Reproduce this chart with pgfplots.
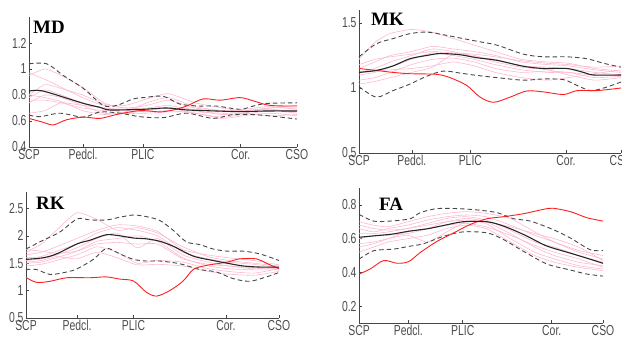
\documentclass[border=0pt]{standalone}
\usepackage{fontspec}
\usepackage{pgfplots}
\pgfplotsset{compat=1.18}
\setmainfont{Liberation Sans}
\newfontfamily\tickfont[FakeStretch=0.72]{Liberation Sans}
\newfontfamily\titlefont{Liberation Serif}
\definecolor{pinkc}{RGB}{252,186,208}
\definecolor{redc}{RGB}{255,30,30}
\definecolor{axc}{RGB}{70,70,70}
\pgfplotsset{
  panel/.style={scale only axis, axis lines*=left, anchor=south west,
    xmin=0, xmax=100, xtick={0,20.2,42.5,79,100},
    xticklabels={SCP,Pedcl.,PLIC,Cor.,CSO},
    tick align=inside, major tick length=3bp,
    axis line style={draw=axc, line width=0.6pt},
    tick style={draw=axc, line width=0.6pt},
    ticklabel style={font=\tickfont\fontsize{14.5}{14.5}\selectfont, text=black!70},
    xticklabel style={yshift=1bp},
    yticklabel style={xshift=1bp},
    /pgf/number format/assume math mode=true,
    clip=false},
  pk/.style={pinkc, line width=0.6pt, smooth, tension=0.35, no marks},
  mn/.style={black!85, line width=1.1pt, smooth, tension=0.5, no marks},
  sd/.style={black!72, line width=0.9pt, dash pattern=on 4.5bp off 3bp, smooth, tension=0.5, no marks},
  pt/.style={redc, line width=0.9pt, smooth, tension=0.5, no marks},
}
\pgfplotstableread{
x   a    b    c    d    e    f    g    h
0   0.95 0.97 0.80 0.78 0.76 0.66 0.80 0.74
6   1.00 0.92 0.88 0.84 0.76 0.68 0.78 0.80
12  0.95 0.86 0.85 0.80 0.74 0.74 0.75 0.78
20  0.86 0.78 0.80 0.74 0.70 0.72 0.68 0.72
28  0.74 0.72 0.73 0.70 0.68 0.70 0.65 0.66
36  0.70 0.72 0.70 0.69 0.68 0.66 0.67 0.66
44  0.72 0.77 0.70 0.69 0.67 0.66 0.74 0.68
52  0.76 0.81 0.72 0.70 0.68 0.67 0.78 0.70
62  0.70 0.74 0.68 0.66 0.66 0.67 0.71 0.69
72  0.68 0.70 0.65 0.63 0.62 0.66 0.68 0.67
80  0.67 0.68 0.66 0.65 0.64 0.66 0.68 0.69
90  0.68 0.70 0.70 0.68 0.66 0.64 0.69 0.71
100 0.68 0.70 0.72 0.66 0.64 0.65 0.67 0.69
}\mdpink
\pgfplotstableread{
x   a    b    c    d    e    f    g    h
0   1.22 1.15 1.12 1.10 1.06 1.03 1.12 1.18
6   1.35 1.20 1.15 1.12 1.08 1.05 1.13 1.22
12  1.42 1.25 1.20 1.16 1.12 1.08 1.14 1.24
20  1.45 1.28 1.25 1.22 1.18 1.12 1.15 1.26
28  1.43 1.32 1.30 1.27 1.22 1.16 1.17 1.28
36  1.38 1.30 1.28 1.25 1.23 1.26 1.20 1.27
44  1.33 1.28 1.24 1.22 1.20 1.25 1.17 1.26
52  1.28 1.25 1.22 1.18 1.15 1.20 1.12 1.24
62  1.22 1.20 1.17 1.14 1.12 1.16 1.08 1.21
72  1.20 1.18 1.16 1.12 1.13 1.14 1.06 1.19
80  1.19 1.17 1.15 1.12 1.12 1.10 1.08 1.18
90  1.15 1.14 1.12 1.10 1.08 1.06 1.11 1.16
100 1.13 1.12 1.10 1.10 1.09 1.08 1.14 1.17
}\mkpink
\pgfplotstableread{
x   a    b    c    d    e    f    g    h
0   1.70 1.65 1.60 1.55 1.50 1.45 1.75 1.52
6   1.85 1.70 1.62 1.58 1.52 1.48 1.72 1.55
12  2.10 1.80 1.72 1.65 1.60 1.55 1.68 1.62
20  2.42 1.95 1.85 1.78 1.72 1.65 1.72 1.58
28  2.30 2.10 2.05 1.95 1.90 1.80 1.85 1.70
36  2.10 2.20 2.15 2.05 1.95 1.70 1.88 1.60
44  2.15 2.18 2.10 1.78 2.00 1.50 1.85 1.47
52  2.05 2.08 2.00 1.95 1.90 1.55 1.85 1.48
62  1.80 1.75 1.70 1.65 1.60 1.52 1.58 1.45
72  1.62 1.65 1.58 1.52 1.45 1.40 1.48 1.35
80  1.55 1.60 1.52 1.45 1.40 1.35 1.45 1.30
90  1.50 1.55 1.48 1.42 1.38 1.32 1.40 1.28
100 1.45 1.47 1.42 1.40 1.38 1.40 1.43 1.35
}\rkpink
\pgfplotstableread{
x   a    b    c    d    e    f    g    h
0   0.70 0.66 0.63 0.60 0.57 0.52 0.68 0.55
6   0.68 0.64 0.63 0.62 0.58 0.55 0.66 0.57
12  0.67 0.66 0.64 0.62 0.60 0.58 0.65 0.60
20  0.70 0.68 0.66 0.63 0.62 0.60 0.66 0.64
28  0.73 0.71 0.69 0.66 0.58 0.62 0.68 0.66
36  0.75 0.73 0.72 0.70 0.64 0.66 0.70 0.68
44  0.76 0.74 0.73 0.72 0.70 0.68 0.71 0.69
52  0.75 0.73 0.71 0.70 0.69 0.66 0.70 0.67
62  0.72 0.68 0.65 0.63 0.60 0.58 0.67 0.62
72  0.64 0.62 0.58 0.55 0.52 0.50 0.63 0.56
80  0.58 0.58 0.55 0.50 0.48 0.46 0.60 0.52
90  0.52 0.53 0.50 0.46 0.44 0.43 0.55 0.48
100 0.48 0.50 0.46 0.44 0.42 0.41 0.47 0.43
}\fapink
\begin{document}
\begin{tikzpicture}[x=1bp,y=1bp]
\useasboundingbox (0,0) rectangle (622,346);
% ---------------- MD ----------------
\begin{axis}[panel, at={(29bp,199bp)}, width=268bp, height=130bp,
  ymin=0.4, ymax=1.4, ytick={0.4,0.6,0.8,1,1.2}]
\foreach \c in {a,b,c,d,e,f,g,h}{\addplot[pk] table[x=x,y=\c]{\mdpink};}
\addplot[sd] coordinates {(0,1.04)(6.6,1.04)(12.8,0.95)(20.3,0.85)(27.7,0.72)(32.7,0.72)(38.9,0.77)(42.7,0.78)(50.1,0.79)(56.3,0.73)(63.8,0.715)(70,0.715)(78.7,0.69)(83.7,0.715)(88.7,0.735)(100,0.74)};
\addplot[sd] coordinates {(0,0.646)(4.1,0.633)(11.6,0.66)(20.3,0.63)(26.5,0.67)(34,0.66)(41.4,0.633)(50.1,0.626)(58.8,0.66)(68.8,0.62)(76.2,0.65)(86.2,0.646)(100,0.615)};
\addplot[pt] coordinates {(0,0.62)(5.3,0.59)(9.1,0.57)(14.1,0.61)(20.3,0.63)(26.5,0.62)(32.7,0.65)(41.4,0.68)(48.9,0.67)(53.9,0.685)(58.8,0.715)(65,0.77)(71.3,0.76)(78.7,0.78)(83.7,0.755)(89.9,0.72)(100,0.715)};
\addplot[mn] coordinates {(0,0.83)(5.3,0.83)(20.2,0.736)(26.5,0.705)(30.2,0.685)(42.4,0.69)(51.4,0.70)(58.8,0.685)(70,0.677)(78.7,0.672)(88.7,0.677)(100,0.677)};
\end{axis}
% ---------------- MK ----------------
\begin{axis}[panel, at={(359bp,193bp)}, width=262bp, height=143bp,
  ymin=0.5, ymax=1.6, ytick={0.5,1,1.5}]
\foreach \c in {a,b,c,d,e,f,g,h}{\addplot[pk] table[x=x,y=\c]{\mkpink};}
\addplot[sd] coordinates {(0,1.24)(6.6,1.34)(13,1.38)(19.4,1.418)(25.8,1.43)(32.1,1.41)(38.5,1.385)(44.9,1.36)(52.6,1.33)(62.8,1.26)(70.4,1.24)(79.3,1.24)(87,1.225)(93.4,1.19)(100,1.16)};
\addplot[sd] coordinates {(0,1.01)(6.6,0.93)(13,0.98)(19.4,1.03)(25.8,1.09)(32.1,1.13)(38.5,1.115)(44.9,1.097)(52.6,1.08)(62.8,1.06)(70.4,1.07)(78.1,1.064)(83.2,1.02)(88.3,0.98)(93.4,1.00)(100,1.046)};
\addplot[pt] coordinates {(0,1.15)(6.6,1.135)(13,1.12)(19.4,1.11)(29.6,1.105)(34.7,1.08)(41.1,1.02)(46.2,0.93)(51.3,0.89)(57.7,0.93)(64,0.977)(70.4,0.97)(78.1,0.95)(83.2,0.98)(90.8,0.98)(100,1.00)};
\addplot[mn] coordinates {(0,1.12)(6.6,1.135)(13,1.17)(19.4,1.225)(25.8,1.25)(30.9,1.265)(38.5,1.256)(44.9,1.233)(52.6,1.213)(62.8,1.167)(70.4,1.15)(79.3,1.15)(85.7,1.12)(89.5,1.10)(100,1.10)};
\end{axis}
% ---------------- RK ----------------
\begin{axis}[panel, at={(26bp,28bp)}, width=253bp, height=126bp,
  ymin=0.5, ymax=2.8, ytick={0.5,1,1.5,2,2.5}]
\foreach \c in {a,b,c,d,e,f,g,h}{\addplot[pk] table[x=x,y=\c]{\rkpink};}
\addplot[sd] coordinates {(0,1.76)(6.8,1.92)(13.4,2.07)(20.3,2.31)(25.3,2.29)(31.8,2.29)(37.1,2.34)(42.5,2.38)(47.6,2.35)(52.9,2.28)(58.2,2.10)(63.4,1.89)(68.7,1.84)(73.9,1.76)(79.5,1.72)(85.8,1.72)(92.4,1.67)(100,1.55)};
\addplot[sd] coordinates {(0,1.385)(4.2,1.385)(9.5,1.295)(16.1,1.34)(20.3,1.40)(26.6,1.57)(31.8,1.77)(37.1,1.67)(42.5,1.57)(47.6,1.54)(52.9,1.54)(60.8,1.49)(68.7,1.385)(75.3,1.34)(81.8,1.22)(88.4,1.17)(95,1.25)(100,1.33)};
\addplot[pt] coordinates {(0,1.24)(4.2,1.15)(9.5,1.17)(16.1,1.235)(25.3,1.235)(31.8,1.25)(37.1,1.21)(42.5,1.175)(47.6,0.97)(51.6,0.90)(56.8,1.0)(62.1,1.175)(66.1,1.385)(71.3,1.46)(79.5,1.52)(84.5,1.58)(91.1,1.58)(95,1.50)(100,1.40)};
\addplot[mn] coordinates {(0,1.57)(6.8,1.60)(12.1,1.67)(20.3,1.855)(25.3,1.92)(31.8,2.02)(37.1,2.0)(42.5,1.96)(47.6,1.945)(52.9,1.90)(58.2,1.81)(66.1,1.63)(73.9,1.55)(79.5,1.5)(85.8,1.45)(92.4,1.43)(100,1.43)};
\end{axis}
% ---------------- FA ----------------
\begin{axis}[panel, at={(359bp,23bp)}, width=244bp, height=135bp,
  ymin=0.1, ymax=0.9, ytick={0.2,0.4,0.6,0.8}]
\foreach \c in {a,b,c,d,e,f,g,h}{\addplot[pk] table[x=x,y=\c]{\fapink};}
\addplot[sd] coordinates {(0,0.744)(6,0.704)(12.8,0.704)(21,0.718)(25.1,0.754)(32,0.778)(40.2,0.778)(48.4,0.77)(56.6,0.754)(63.4,0.718)(70.2,0.704)(79.5,0.654)(86.6,0.604)(94.8,0.534)(100,0.53)};
\addplot[sd] coordinates {(0,0.478)(6,0.528)(14.2,0.538)(20.4,0.554)(26.5,0.57)(34.7,0.614)(42.6,0.64)(52.5,0.634)(59.3,0.594)(67.5,0.524)(75.7,0.458)(79.5,0.438)(86.6,0.414)(93.4,0.39)(100,0.378)};
\addplot[pt] coordinates {(0,0.39)(4.6,0.42)(10.1,0.47)(15.6,0.454)(20.4,0.464)(25.1,0.518)(32,0.584)(38.8,0.634)(45.6,0.684)(52.5,0.718)(59.3,0.73)(67.5,0.748)(75.7,0.774)(79.5,0.78)(86.6,0.76)(93.4,0.724)(100,0.704)};
\addplot[mn] coordinates {(0,0.608)(7.4,0.618)(14.2,0.628)(20.4,0.644)(27.9,0.658)(34.7,0.678)(42.6,0.70)(52.5,0.70)(59.3,0.674)(67.5,0.624)(75.7,0.564)(79.5,0.544)(86.6,0.514)(93.4,0.484)(100,0.454)};
\end{axis}
% titles
\node[anchor=base west, inner sep=0pt, font=\titlefont\bfseries\fontsize{19}{19}\selectfont] at (33,313) {MD};
\node[anchor=base west, inner sep=0pt, font=\titlefont\bfseries\fontsize{19}{19}\selectfont] at (371,321) {MK};
\node[anchor=base west, inner sep=0pt, font=\titlefont\bfseries\fontsize{19}{19}\selectfont] at (36,137) {RK};
\node[anchor=base west, inner sep=0pt, font=\titlefont\bfseries\fontsize{19}{19}\selectfont] at (379,136) {FA};
\end{tikzpicture}
\end{document}
